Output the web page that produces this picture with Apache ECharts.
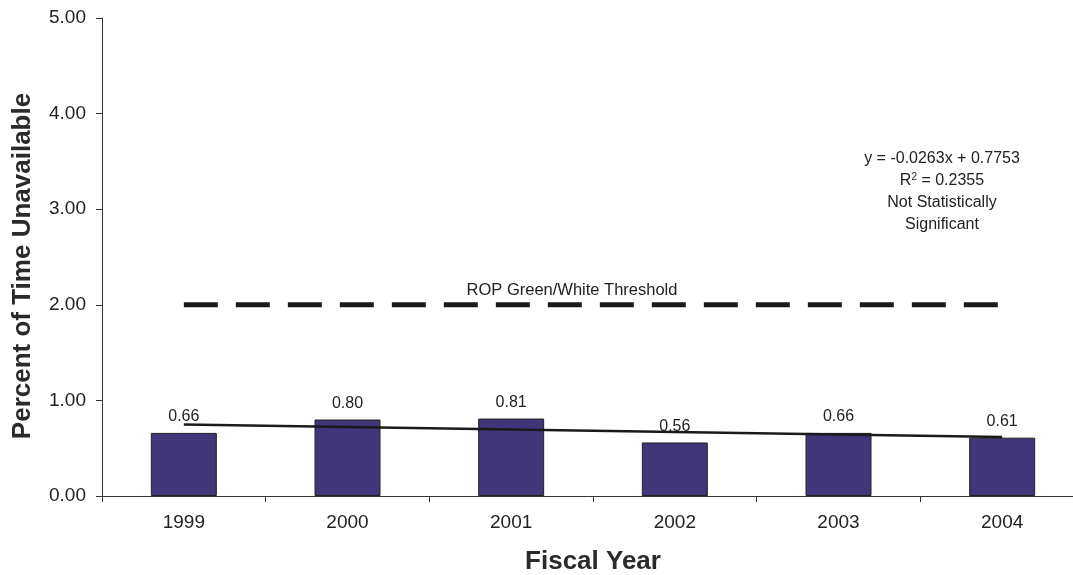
<!DOCTYPE html>
<html><head><meta charset="utf-8">
<script src="https://cdn.jsdelivr.net/npm/echarts@6/dist/echarts.min.js"></script>
<style>html,body{margin:0;padding:0;background:#fff}#c{width:1073px;height:575px}</style>
</head><body><div id="c"></div>
<script>
var categories = ['1999','2000','2001','2002','2003','2004'];
var values = [0.66, 0.80, 0.81, 0.56, 0.66, 0.61];
var trend = [0.749, 0.723, 0.696, 0.670, 0.644, 0.618];
var threshold = [2, 2, 2, 2, 2, 2];
var yTicks = [0, 1, 2, 3, 4, 5];
var xTitle = 'Fiscal Year';
var yTitle = 'Percent of Time Unavailable';
var thresholdLabel = 'ROP Green/White Threshold';
var trendText = ['y = -0.0263x + 0.7753', 'R{sup|2} = 0.2355', 'Not Statistically', 'Significant'];

var FONT = '"Liberation Sans", Arial, sans-serif';
var chart = echarts.init(document.getElementById('c'), null, {renderer: 'canvas'});
chart.setOption({
  animation: false,
  backgroundColor: '#fff',
  grid: {left: 102, top: 18, width: 982, height: 478, containLabel: false, outerBoundsMode: 'none'},
  xAxis: {
    type: 'category', data: categories, boundaryGap: true,
    name: xTitle, nameLocation: 'middle', nameGap: 53,
    nameTextStyle: {fontFamily: FONT, fontSize: 26, fontWeight: 'bold', color: '#2a2a2a'},
    axisLine: {lineStyle: {color: '#333', width: 1}},
    axisTick: {show: true, length: 6, alignWithLabel: false, lineStyle: {color: '#333'}},
    axisLabel: {fontFamily: FONT, fontSize: 19, color: '#222', margin: 17},
    splitLine: {show: false}
  },
  yAxis: {
    type: 'value', min: yTicks[0], max: yTicks[yTicks.length - 1], interval: 1,
    axisLine: {show: true, lineStyle: {color: '#333', width: 1}},
    axisTick: {show: true, length: 6, lineStyle: {color: '#333'}},
    axisLabel: {fontFamily: FONT, fontSize: 19, color: '#222', margin: 16,
      formatter: function (v) { return v.toFixed(2); }},
    splitLine: {show: false}
  },
  series: [
    {
      type: 'bar', data: values, barWidth: 66, z: 2,
      itemStyle: {color: '#42367A', borderColor: '#222', borderWidth: 1},
      label: {show: true, position: 'top', distance: 8, fontFamily: FONT, fontSize: 16, color: '#222',
        formatter: function (p) { return p.value.toFixed(2); }}
    },
    {
      type: 'line', data: threshold, symbol: 'none', z: 3,
      lineStyle: {color: '#1a1a1a', width: 5, type: [34, 18]}
    },
    {
      type: 'line', data: trend, symbol: 'none', z: 4,
      lineStyle: {color: '#1a1a1a', width: 2.5}
    }
  ],
  graphic: [
    {type: 'text', x: 23, y: 266, rotation: Math.PI / 2, style: {text: yTitle, font: 'bold 26px ' + FONT, fill: '#2a2a2a', align: 'center', verticalAlign: 'middle'}},
    {type: 'text', x: 572, y: 290, style: {text: thresholdLabel, font: '16.5px ' + FONT, fill: '#222', align: 'center', verticalAlign: 'middle'}},
    {type: 'text', x: 942, y: 148, style: {
      text: trendText.join('\n'), font: '16px ' + FONT, fill: '#222', align: 'center', lineHeight: 22,
      rich: {sup: {fontSize: 10, verticalAlign: 'bottom', padding: [0, 0, 10, 0], fill: '#222'}}
    }}
  ]
});
</script></body></html>
